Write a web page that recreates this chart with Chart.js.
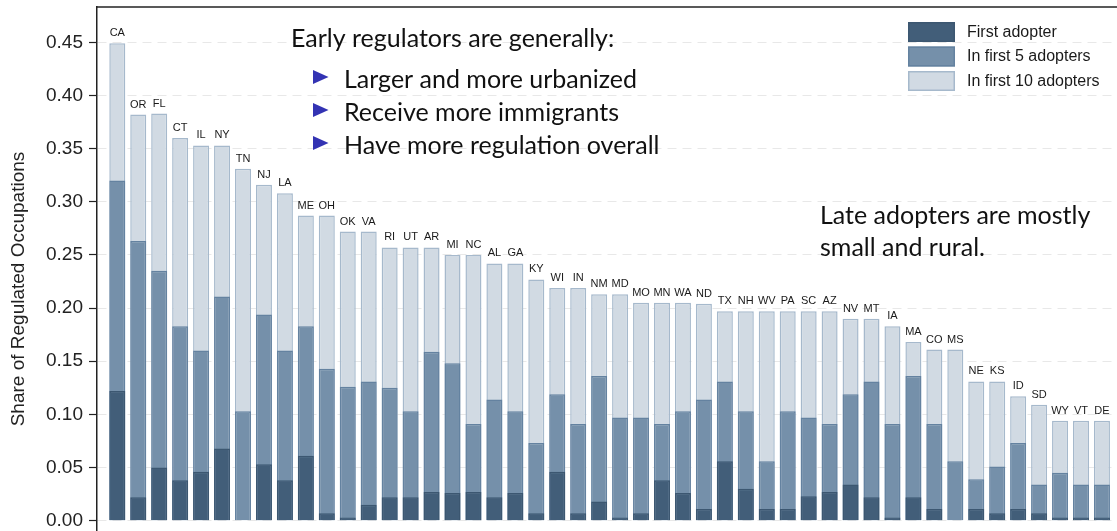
<!DOCTYPE html>
<html>
<head>
<meta charset="utf-8">
<script src="https://cdn.jsdelivr.net/npm/chart.js@4.4.0/dist/chart.umd.min.js"></script>
<style>
  html, body { margin: 0; padding: 0; background: #fff; overflow: hidden; }
  #wrap { position: relative; width: 1125px; height: 571px; }
</style>
</head>
<body>
<div id="wrap"><canvas id="adoptChart"></canvas></div>
<script>
// states ordered by share regulated within the first 10 adopters
var states = ["CA", "OR", "FL", "CT", "IL", "NY", "TN", "NJ", "LA", "ME", "OH", "OK", "VA", "RI", "UT", "AR",
  "MI", "NC", "AL", "GA", "KY", "WI", "IN", "NM", "MD", "MO", "MN", "WA", "ND", "TX", "NH", "WV",
  "PA", "SC", "AZ", "NV", "MT", "IA", "MA", "CO", "MS", "NE", "KS", "ID", "SD", "WY", "VT", "DE"];

var firstAdopter = [0.122, 0.022, 0.050, 0.038, 0.046, 0.068, 0.000, 0.053, 0.038, 0.061, 0.007, 0.003, 0.015, 0.022, 0.022, 0.027,
  0.026, 0.027, 0.022, 0.026, 0.007, 0.046, 0.007, 0.018, 0.003, 0.007, 0.038, 0.026, 0.011, 0.056, 0.030, 0.011,
  0.011, 0.023, 0.027, 0.034, 0.022, 0.003, 0.022, 0.011, 0.000, 0.011, 0.007, 0.011, 0.007, 0.003, 0.003, 0.003];

var firstFive = [0.320, 0.263, 0.235, 0.183, 0.160, 0.211, 0.103, 0.194, 0.160, 0.183, 0.143, 0.126, 0.131, 0.125, 0.103, 0.159,
  0.148, 0.091, 0.114, 0.103, 0.073, 0.119, 0.091, 0.136, 0.097, 0.097, 0.091, 0.103, 0.114, 0.131, 0.103, 0.056,
  0.103, 0.097, 0.091, 0.119, 0.131, 0.091, 0.136, 0.091, 0.056, 0.039, 0.051, 0.073, 0.034, 0.045, 0.034, 0.034];

var firstTen = [0.449, 0.382, 0.383, 0.360, 0.353, 0.353, 0.331, 0.316, 0.308, 0.287, 0.287, 0.272, 0.272, 0.257, 0.257, 0.257,
  0.250, 0.250, 0.242, 0.242, 0.227, 0.219, 0.219, 0.213, 0.213, 0.205, 0.205, 0.205, 0.204, 0.197, 0.197, 0.197,
  0.197, 0.197, 0.197, 0.190, 0.190, 0.183, 0.168, 0.161, 0.161, 0.131, 0.131, 0.117, 0.109, 0.094, 0.094, 0.094];

var tickValues = [0, 0.05, 0.10, 0.15, 0.20, 0.25, 0.30, 0.35, 0.40, 0.45];

var earlyTitle = "Early regulators are generally:";
var earlyPoints = ["Larger and more urbanized", "Receive more immigrants", "Have more regulation overall"];
var lateNote = ["Late adopters are mostly", "small and rural."];

function points(vals) {
  return vals.map(function (v, i) { return { x: i, y: v }; });
}

var extras = {
  id: 'extras',
  afterDatasetsDraw: function (chart) {
    var ctx = chart.ctx, area = chart.chartArea;
    ctx.save();

    // frame top line
    ctx.strokeStyle = '#222';
    ctx.lineWidth = 1.5;
    ctx.beginPath();
    ctx.moveTo(area.left, area.top);
    ctx.lineTo(area.right, area.top);
    ctx.stroke();

    // state labels above the tallest bar
    var meta = chart.getDatasetMeta(2);
    ctx.fillStyle = '#1a1a1a';
    ctx.font = '11px "Liberation Sans", Arial, sans-serif';
    ctx.textAlign = 'center';
    ctx.textBaseline = 'alphabetic';
    meta.data.forEach(function (bar, i) {
      ctx.fillText(states[i], bar.x, bar.y - 7);
    });

    // notes
    ctx.textAlign = 'left';
    ctx.fillStyle = '#111';
    ctx.font = '25px Lato, sans-serif';
    ctx.fillText(earlyTitle, 291, 46.5);
    earlyPoints.forEach(function (t, i) {
      var base = 87.5 + i * 33;
      ctx.fillStyle = '#3333b3';
      ctx.beginPath();
      ctx.moveTo(313, base - 17.5);
      ctx.lineTo(328.5, base - 10.5);
      ctx.lineTo(313, base - 3.5);
      ctx.closePath();
      ctx.fill();
      ctx.fillStyle = '#111';
      ctx.fillText(t, 344, base);
    });
    lateNote.forEach(function (t, i) {
      ctx.fillText(t, 820, 223.5 + i * 32);
    });

    // legend
    ctx.font = '16px "Liberation Sans", Arial, sans-serif';
    ctx.textBaseline = 'middle';
    chart.data.datasets.forEach(function (ds, i) {
      var y = 22 + i * 24.5;
      ctx.fillStyle = ds.backgroundColor;
      ctx.fillRect(908, y, 47, 20);
      ctx.strokeStyle = ds.borderColor;
      ctx.lineWidth = 1.5;
      ctx.strokeRect(908.75, y + 0.75, 45.5, 18.5);
      ctx.fillStyle = '#1a1a1a';
      ctx.fillText(ds.label, 967, y + 10.5);
    });
    ctx.restore();
  }
};

var ctx = document.getElementById('adoptChart');
var adoptChart = new Chart(ctx, {
  type: 'bar',
  data: {
    datasets: [{
      label: 'First adopter',
      data: points(firstAdopter),
      backgroundColor: '#425e79',
      borderColor: '#3c5771',
      borderWidth: 1.5,
      grouped: false
    }, {
      label: 'In first 5 adopters',
      data: points(firstFive),
      backgroundColor: '#7590aa',
      borderColor: '#6482a0',
      borderWidth: 1.5,
      grouped: false
    }, {
      label: 'In first 10 adopters',
      data: points(firstTen),
      backgroundColor: '#d1dae3',
      borderColor: '#a6b9cc',
      borderWidth: 1.5,
      grouped: false
    }]
  },
  options: {
    responsive: true,
    maintainAspectRatio: false,
    animation: false,
    categoryPercentage: 1,
    barPercentage: 0.764,
    layout: { padding: { top: 7, left: 0, right: 0, bottom: 0 } },
    plugins: {
      legend: { display: false },
      tooltip: { enabled: false }
    },
    scales: {
      x: {
        type: 'linear',
        display: false,
        offset: false,
        min: -0.969,
        max: 48.10
      },
      y: {
        min: -0.0473,
        max: 0.4832,
        afterBuildTicks: function (scale) {
          scale.ticks = tickValues.map(function (v) { return { value: v }; });
        },
        afterFit: function (scale) {
          scale.width = 97;
          scale.paddingTop = 0;
          scale.paddingBottom = 0;
        },
        ticks: {
          callback: function (v) { return v.toFixed(2); },
          color: '#222',
          padding: 6,
          font: { family: '"Liberation Sans", Arial, sans-serif', size: 19 }
        },
        grid: {
          color: '#e8e8e8',
          lineWidth: 1,
          tickLength: 8,
          tickColor: '#222',
          tickWidth: 1.2,
          tickBorderDash: []
        },
        border: { display: true, color: '#222', width: 1.5, dash: [9, 6] },
        title: {
          display: true,
          text: 'Share of Regulated Occupations',
          color: '#222',
          padding: { top: 7, bottom: 0 },
          font: { family: '"Liberation Sans", Arial, sans-serif', size: 19 }
        }
      }
    }
  },
  plugins: [extras]
});
</script>
</body>
</html>
